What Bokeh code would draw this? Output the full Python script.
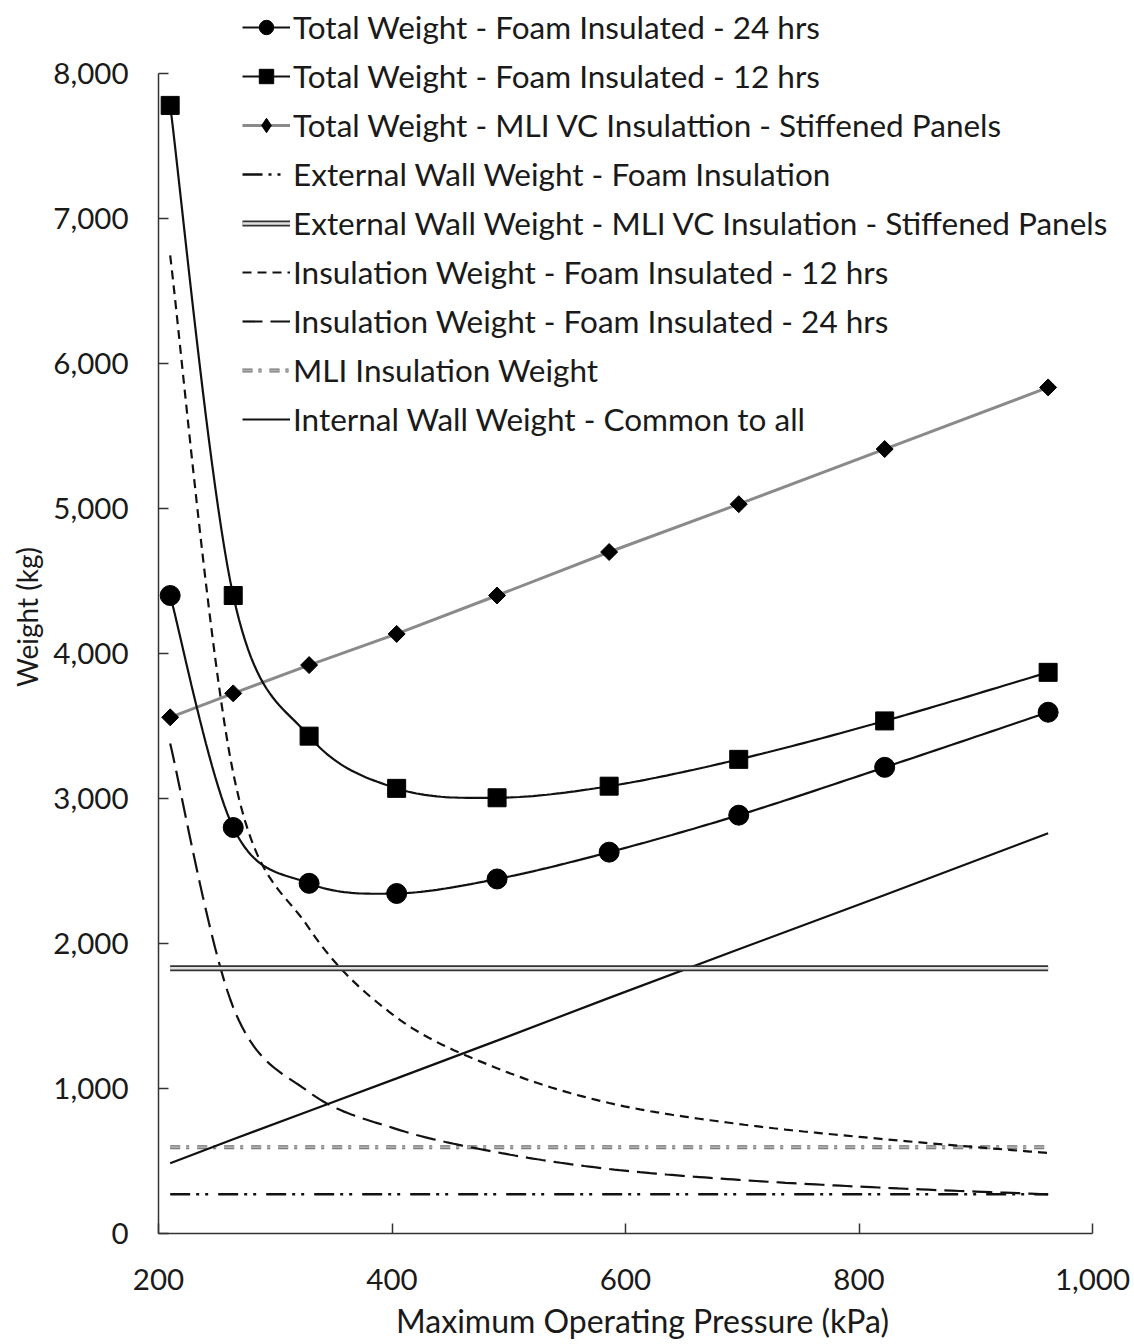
import numpy as np
from bokeh.plotting import figure
from bokeh.models import Range1d, Legend, LegendItem, NumeralTickFormatter, FixedTicker
from bokeh.embed import file_html
from bokeh.resources import INLINE

# ---- data ----
pressure = [210, 264, 329, 404, 490, 586, 697, 822, 962]
total_foam_24 = [4400, 2800, 2415, 2345, 2445, 2630, 2885, 3215, 3595]
total_foam_12 = [7780, 4400, 3430, 3070, 3005, 3085, 3270, 3535, 3870]
total_mli = [3560, 3725, 3920, 4135, 4400, 4700, 5030, 5410, 5835]
ext_wall_foam = [270, 270, 270, 270, 270, 270, 270, 270, 270]
ext_wall_mli = [1830, 1830, 1830, 1830, 1830, 1830, 1830, 1830, 1830]
ins_foam_12 = [6745, 3175, 2105, 1490, 1140, 900, 755, 650, 555]
ins_foam_24 = [3380, 1560, 975, 720, 560, 445, 370, 315, 270]
mli_ins = [595, 595, 595, 595, 595, 595, 595, 595, 595]
internal_wall = [485, 650, 845, 1070, 1330, 1625, 1960, 2335, 2760]

x_ticks = [200, 400, 600, 800, 1000]
y_ticks = [0, 1000, 2000, 3000, 4000, 5000, 6000, 7000, 8000]

labels = [
    "Total Weight - Foam Insulated - 24 hrs",
    "Total Weight - Foam Insulated - 12 hrs",
    "Total Weight - MLI VC Insulattion - Stiffened Panels",
    "External Wall Weight - Foam Insulation",
    "External Wall Weight - MLI VC Insulation - Stiffened Panels",
    "Insulation Weight - Foam Insulated - 12 hrs",
    "Insulation Weight - Foam Insulated - 24 hrs",
    "MLI Insulation Weight",
    "Internal Wall Weight - Common to all",
]


def smooth(xs, ys, n=24):
    """Excel-like smoothed line (cubic Bezier through the points)."""
    P = np.column_stack([np.asarray(xs, float), np.asarray(ys, float)])
    m = len(P)
    out = [P[0]]
    t = np.linspace(0, 1, n + 1)[1:, None]
    for i in range(m - 1):
        p0 = P[i - 1] if i > 0 else P[i]
        p1, p2 = P[i], P[i + 1]
        p3 = P[i + 2] if i + 2 < m else P[i + 1]
        c1 = p1 + (p2 - p0) / 6.0
        c2 = p2 - (p3 - p1) / 6.0
        seg = (1 - t) ** 3 * p1 + 3 * (1 - t) ** 2 * t * c1 + 3 * (1 - t) * t ** 2 * c2 + t ** 3 * p2
        out.extend(seg)
    out = np.array(out)
    return out[:, 0], out[:, 1]


FONT = "Lato"
TXT = "#1a1a1a"

# layout (pixels): axes span 200..1000 over 934 px and 0..8000 over 1160 px;
# the frame is extended up and right so the legend can sit above/right of the axes.
W, H = 1130, 1343
LEFT, BOTTOM = 158, 110
FRAME_W = W - LEFT - 4
FRAME_H = H - BOTTOM
x_end = 200 + FRAME_W * 800.0 / 934.0
y_end = FRAME_H * 8000.0 / 1160.0

p = figure(width=W, height=H, x_range=Range1d(200, x_end), y_range=Range1d(0, y_end),
           output_backend="svg", toolbar_location=None,
           min_border_left=LEFT, min_border_right=4, min_border_top=0, min_border_bottom=BOTTOM)
p.outline_line_color = None
p.grid.visible = False
p.background_fill_color = "white"

for ax in (p.xaxis[0], p.yaxis[0]):
    ax.axis_line_color = "#333333"
    ax.axis_line_width = 1.5
    ax.major_tick_line_color = "#333333"
    ax.major_tick_line_width = 1.5
    ax.major_tick_in = 10
    ax.major_tick_out = 0
    ax.minor_tick_line_color = None
    ax.major_label_text_font = FONT
    ax.major_label_text_font_size = "29.5px"
    ax.major_label_text_color = TXT
    ax.axis_label_text_font = FONT
    ax.axis_label_text_font_style = "normal"
    ax.axis_label_text_color = TXT

p.xaxis.bounds = (200, 1000)
p.yaxis.bounds = (0, 8000)
p.xaxis.ticker = FixedTicker(ticks=x_ticks)
p.yaxis.ticker = FixedTicker(ticks=y_ticks)
p.xaxis.formatter = NumeralTickFormatter(format="0,0")
p.yaxis.formatter = NumeralTickFormatter(format="0,0")
p.xaxis.axis_label = "Maximum Operating Pressure (kPa)"
p.yaxis.axis_label = "Weight (kg)"
p.xaxis.axis_label_text_font_size = "32px"
p.yaxis.axis_label_text_font_size = "28px"
p.xaxis.major_label_standoff = 35
p.yaxis.major_label_standoff = 30
p.xaxis.axis_label_standoff = 8
p.yaxis.axis_label_standoff = 6

# External wall - foam (dash-dot-dot)
r_ef = p.line(pressure, ext_wall_foam, line_color="#111111", line_width=2.5, line_dash="20 6 3 6 3 10")
# MLI insulation weight (gray dash-dot)
r_mli_a = p.line(pressure, mli_ins, line_color="#6e6e6e", line_width=4, line_dash="10 6 3 8")
r_mli_b = p.line(pressure, mli_ins, line_color="#b0b0b0", line_width=2, line_dash="10 6 3 8")
# Insulation 24 hrs (long dash)
xs, ys = smooth(pressure, ins_foam_24)
r_i24 = p.line(xs, ys, line_color="#111111", line_width=2.2, line_dash="20 8")
# Insulation 12 hrs (short dash)
xs, ys = smooth(pressure, ins_foam_12)
r_i12 = p.line(xs, ys, line_color="#111111", line_width=2.2, line_dash="9 6")
# Internal wall
r_iw = p.line(pressure, internal_wall, line_color="#111111", line_width=2.2)
# External wall - MLI (double line)
r_em_a = p.line(pressure, ext_wall_mli, line_color="#333333", line_width=6)
r_em_b = p.line(pressure, ext_wall_mli, line_color="#e0e0e0", line_width=2.5)
# Total MLI
r_tm_l = p.line(pressure, total_mli, line_color="#8a8a8a", line_width=3)
r_tm_m = p.scatter(pressure, total_mli, marker="square", angle=np.pi / 4, size=12,
                   fill_color="black", line_color="black")
# hidden copy with a diamond marker, used only for the legend glyph
r_tm_proxy = p.scatter(pressure, total_mli, marker="diamond", size=17,
                       fill_color="black", line_color="black", visible=False)
# Total foam 12
xs, ys = smooth(pressure, total_foam_12)
r_t12_l = p.line(xs, ys, line_color="#111111", line_width=2.2)
r_t12_m = p.scatter(pressure, total_foam_12, marker="square", size=18, fill_color="black", line_color="black")
# Total foam 24
xs, ys = smooth(pressure, total_foam_24)
r_t24_l = p.line(xs, ys, line_color="#111111", line_width=2.2)
r_t24_m = p.scatter(pressure, total_foam_24, marker="circle", size=20, fill_color="black", line_color="black")

renderer_groups = [
    [r_t24_l, r_t24_m],
    [r_t12_l, r_t12_m],
    [r_tm_l, r_tm_proxy],
    [r_ef],
    [r_em_a, r_em_b],
    [r_i12],
    [r_i24],
    [r_mli_a, r_mli_b],
    [r_iw],
]
items = [LegendItem(label=lab, renderers=rs) for lab, rs in zip(labels, renderer_groups)]

legend = Legend(items=items, location=(84, 795), orientation="vertical",
                padding=0, margin=0, spacing=11, glyph_width=48, glyph_height=36,
                label_height=36, label_standoff=3,
                label_text_font=FONT, label_text_font_size="31.5px", label_text_color=TXT,
                background_fill_alpha=0, border_line_alpha=0)
p.add_layout(legend)

open("out.html", "w").write(file_html(p, INLINE))
